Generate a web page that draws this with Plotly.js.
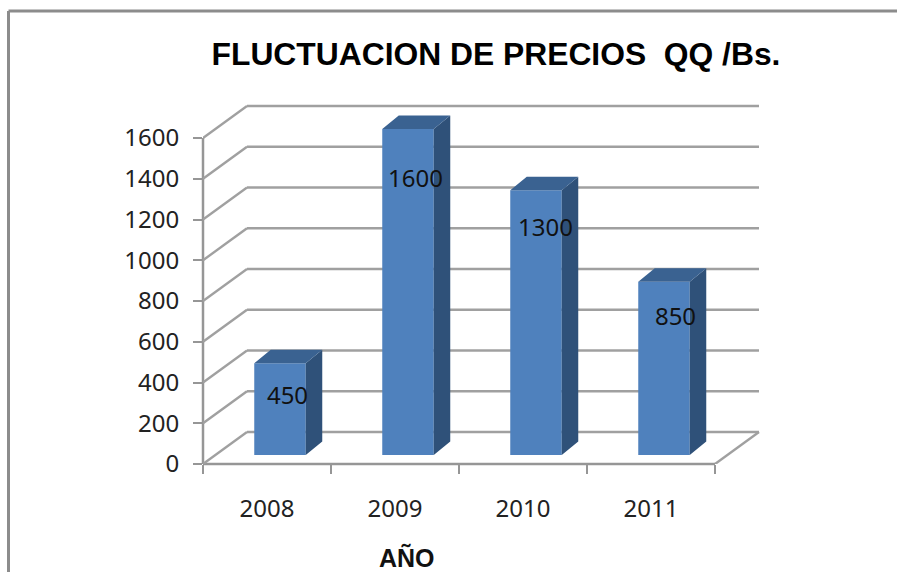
<!DOCTYPE html>
<html>
<head>
<meta charset="utf-8">
<script src="https://cdn.plot.ly/plotly-3.0.1.min.js"></script>
<style>html,body{margin:0;padding:0;background:#fff;overflow:hidden}#chart{width:897px;height:572px}</style>
</head>
<body>
<div id="chart"></div>
<script>
// --- data ---
const years = ['2008', '2009', '2010', '2011'];
const prices = [450, 1600, 1300, 850];
const yTicks = [0, 200, 400, 600, 800, 1000, 1200, 1400, 1600];
const titleText = 'FLUCTUACION DE PRECIOS\u00A0\u00A0QQ /Bs.';
const xTitleText = 'AÑO';

// --- layout constants ---
const W = 897, H = 572;
const mL = 203, mR = 132, mT = 100, mB = 108;
const plotW = W - mL - mR, plotH = H - mT - mB;
const pxPerCat = 128, pxPerVal = 326 / 1600;
const xMin = -0.5, xMax = xMin + plotW / pxPerCat, yMax = plotH / pxPerVal;
const dxU = p => p / pxPerCat, dyU = p => p / pxPerVal;
const wallDX = dxU(44), wallDY = dyU(32);
const barShiftX = dxU(13), barBase = dyU(9), barW = dxU(51.5);
const depthX = dxU(16.5), depthY = dyU(13.5);
const labelDX = [7.5, 7.5, 9.5, 11.5].map(dxU);
const labelDrop = [34.5, 51.5, 39.5, 37.5].map(dyU);
const gridColor = '#a0a0a0', axisColor = '#969696';
const idx = years.map((_, i) => i);
const barX = idx.map(i => i + barShiftX);
const paperX = p => (p - mL) / plotW, paperY = p => (H - mB - p) / plotH;

// --- wall and floor lines ---
const shapes = [];
const ln = (x0, y0, x1, y1, color, width, refs) => Object.assign({
  type: 'line', layer: 'below', xref: 'x', yref: 'y', x0, y0, x1, y1,
  line: {color, width}
}, refs || {});
yTicks.forEach(t => {
  shapes.push(ln(xMin, t, xMin + wallDX, t + wallDY, gridColor, 2.4));
  shapes.push(ln(xMin + wallDX, t + wallDY, idx.length - 0.5 + wallDX, t + wallDY, gridColor, 2.4));
});
shapes.push(ln(idx.length - 0.5, 0, idx.length - 0.5 + wallDX, wallDY, gridColor, 2.4));
// axis lines
shapes.push(ln(xMin, 0, idx.length - 0.5, 0, axisColor, 2.5, {yref: 'paper', y0: 0, y1: 0}));
shapes.push(ln(0, 0, 0, 1600, axisColor, 2.5, {xref: 'paper', x0: 0, x1: 0}));
// outer frame of the picture
const fr = {xref: 'paper', yref: 'paper'};
shapes.push(ln(paperX(8.5), paperY(11), paperX(W), paperY(11), '#8c8c8c', 3, fr));
shapes.push(ln(paperX(8.5), paperY(11), paperX(8.5), paperY(H), '#8c8c8c', 3, fr));

// --- 3D faces of the bars, derived from the values ---
const sideX = [], sideY = [], topX = [], topY = [];
idx.forEach(i => {
  const r = barX[i] + barW / 2, l = barX[i] - barW / 2, top = prices[i] + barBase;
  sideX.push(r, r + depthX, r + depthX, r, r, null);
  sideY.push(barBase, barBase + depthY, top + depthY, top, barBase, null);
  topX.push(l, r, r + depthX, l + depthX, l, null);
  topY.push(top, top, top + depthY, top + depthY, top, null);
});

const traces = [
  {type: 'bar', x: barX, y: prices, base: barBase, width: barW,
   marker: {color: '#4f81bd', line: {width: 0}}, hoverinfo: 'skip'},
  {type: 'scatter', mode: 'lines', x: sideX, y: sideY, fill: 'toself',
   fillcolor: '#2f5179', line: {width: 0, color: '#2f5179'}, hoverinfo: 'skip'},
  {type: 'scatter', mode: 'lines', x: topX, y: topY, fill: 'toself',
   fillcolor: '#3a6291', line: {width: 0, color: '#3a6291'}, hoverinfo: 'skip'},
  {type: 'scatter', mode: 'text',
   x: idx.map(i => barX[i] + labelDX[i]),
   y: idx.map(i => prices[i] + barBase - labelDrop[i]),
   text: prices.map(String), textposition: 'middle center', cliponaxis: false,
   textfont: {family: 'Noto Sans', size: 24, color: '#111'}, hoverinfo: 'skip'}
];

const layout = {
  width: W, height: H, showlegend: false,
  paper_bgcolor: '#fff', plot_bgcolor: 'rgba(0,0,0,0)',
  margin: {l: mL, r: mR, t: mT, b: mB, pad: 0},
  title: {text: titleText, x: 496 / W, xanchor: 'center', y: 1 - 54 / H, yanchor: 'middle',
          font: {family: 'Liberation Sans', size: 31.8, color: '#000', weight: 'bold'}},
  xaxis: {
    type: 'linear', range: [xMin, xMax], tickmode: 'array', tickvals: idx, ticktext: years,
    showgrid: false, zeroline: false, showline: false, ticks: '',
    ticklabelstandoff: 28,
    tickfont: {family: 'Noto Sans', size: 24, color: '#222'},
    minor: {tickmode: 'array', tickvals: [...idx.map(i => i - 0.5), idx.length - 0.5],
            ticks: 'outside', ticklen: 9, tickwidth: 2, tickcolor: axisColor, showgrid: false}
  },
  yaxis: {
    range: [0, yMax], tickmode: 'array', tickvals: yTicks, ticktext: yTicks.map(String),
    showgrid: false, zeroline: false, showline: false,
    ticks: 'outside', ticklen: 9, tickwidth: 2, tickcolor: axisColor,
    ticklabelstandoff: 9,
    tickfont: {family: 'Noto Sans', size: 24, color: '#222'}
  },
  shapes,
  annotations: [{
    text: xTitleText, xref: 'paper', yref: 'paper', x: paperX(407), y: paperY(557.5),
    xanchor: 'center', yanchor: 'middle', showarrow: false,
    font: {family: 'Liberation Sans', size: 25, color: '#111', weight: 'bold'}
  }]
};
Plotly.newPlot('chart', traces, layout, {displayModeBar: false, staticPlot: true});
</script>
</body>
</html>
